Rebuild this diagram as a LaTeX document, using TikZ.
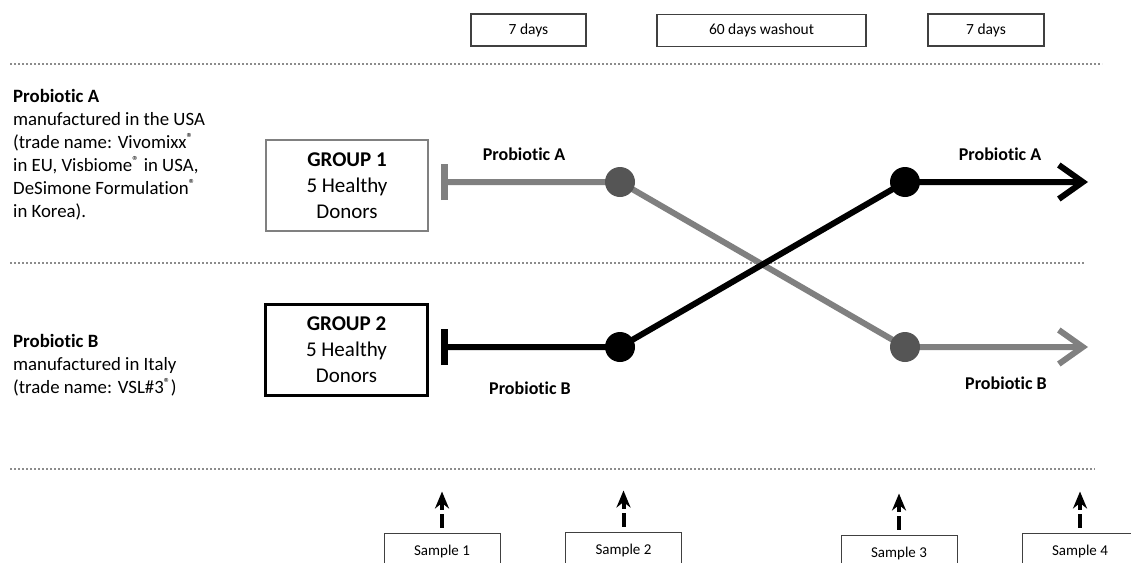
\documentclass[tikz,border=0pt]{standalone}
\usepackage{fontspec}
\setmainfont{Carlito}[Ligatures=NoCommon]
\usetikzlibrary{arrows.meta}

\definecolor{lightline}{HTML}{808080}
\definecolor{darkdot}{HTML}{555555}
\definecolor{dotline}{HTML}{8C8C8C}

\begin{document}
\begin{tikzpicture}[x=1pt,y=-1pt,
 period/.style={draw=black!75,line width=1.2pt,minimum height=32pt,font=\fontsize{15.5}{18}\selectfont},
 sample/.style={draw=black!75,line width=1pt,minimum width=116pt,minimum height=36pt,font=\fontsize{15}{18}\selectfont},
 group/.style={minimum width=162pt,minimum height=91pt,align=center,font=\fontsize{21}{26}\selectfont},
 info/.style={anchor=north west,inner sep=0pt,align=left,font=\fontsize{18.8}{23}\selectfont},
 druglabel/.style={font=\bfseries\fontsize{18}{20}\selectfont},
 dot/.style={circle,minimum size=30pt,inner sep=0pt},
 sep/.style={dotline,line width=2.2pt,dash pattern=on 2pt off 2pt},
 course/.style={line width=6pt,line join=round,{Bar[width=36pt,line width=7pt]}-{Straight Barb[length=24pt,width=34pt]}},
 samplearrow/.style={line width=4pt,dash pattern=on 14pt off 4pt,-{Stealth[length=17pt,width=14pt]}}]
 \clip (0,0) rectangle (1131,562);

 % periods on top
 \node[period,minimum width=115pt] (wk1) at (528.5,30) {7 days};
 \node[period,minimum width=209pt] (wash) at (761.5,30.5) {60 days washout};
 \node[period,minimum width=116pt] (wk2) at (986,30) {7 days};

 % separators
 \draw[sep] (10,64) -- (1102,64);
 \draw[sep] (10,263) -- (1085,263);
 \draw[sep] (10,469) -- (1095,469);

 % probiotic descriptions
 \node[info] (infoA) at (13,89) {\textbf{Probiotic A}\\manufactured in the USA\\(trade name: Vivomixx\textsuperscript{®}\\in EU, Visbiome\textsuperscript{®} in USA,\\DeSimone Formulation\textsuperscript{®}\\in Korea).};
 \node[info] (infoB) at (13,334) {\textbf{Probiotic B}\\manufactured in Italy\\(trade name: VSL\#3\textsuperscript{®})};

 % groups
 \node[group,draw=lightline,line width=2.5pt] (grp1) at (347,185.5) {\textbf{GROUP 1}\\5 Healthy\\Donors};
 \node[group,draw=black,line width=3pt] (grp2) at (346.5,350) {\textbf{GROUP 2}\\5 Healthy\\Donors};

 % crossover points
 \coordinate (g1start) at (441,182);
 \coordinate (g2start) at (441,347);
 \coordinate (g1a) at (620,182);
 \coordinate (g2b) at (620,347);
 \coordinate (g2a) at (905,182);
 \coordinate (g1b) at (905,347);
 \coordinate (g1end) at (1088,347);
 \coordinate (g2end) at (1088,182);

 \draw[course,lightline] (g1start) -- (g1a) -- (g1b) -- (g1end);
 \draw[course,black] (g2start) -- (g2b) -- (g2a) -- (g2end);

 \node[dot,fill=darkdot] (d1a) at (g1a) {};
 \node[dot,fill=darkdot] (d1b) at (g1b) {};
 \node[dot,fill=black] (d2b) at (g2b) {};
 \node[dot,fill=black] (d2a) at (g2a) {};

 \node[druglabel] (labA1) at (524,154) {Probiotic A};
 \node[druglabel] (labB1) at (530,388) {Probiotic B};
 \node[druglabel] (labA2) at (1000,154) {Probiotic A};
 \node[druglabel] (labB2) at (1006,383) {Probiotic B};

 % samples
 \node[sample] (s1) at (442,551) {Sample 1};
 \node[sample] (s2) at (623.5,550) {Sample 2};
 \node[sample] (s3) at (899,553) {Sample 3};
 \node[sample] (s4) at (1080,551) {Sample 4};

 \foreach \s in {s1,s2,s3,s4}
  \draw[samplearrow] ([yshift=5pt]\s.north) -- ([yshift=41pt]\s.north);
\end{tikzpicture}
\end{document}
